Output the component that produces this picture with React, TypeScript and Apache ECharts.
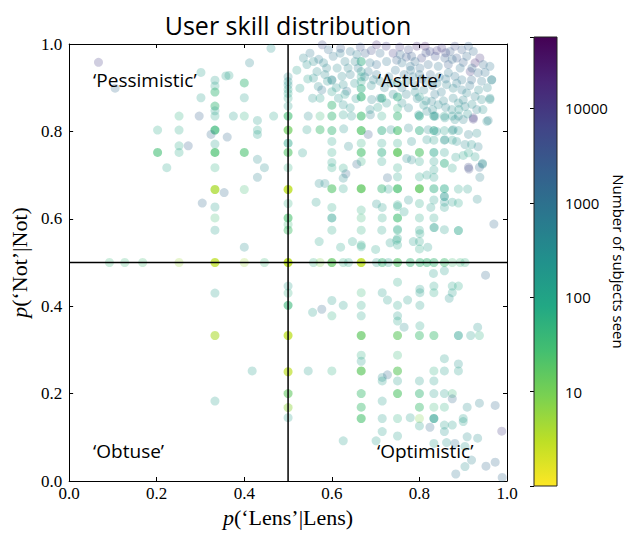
import React, { useEffect, useRef } from 'react';
import * as echarts from 'echarts';

// [p('Lens'|Lens), p('Not'|Not), subjects seen, users stacked at that point]
type Pt = [number, number, number, number?];

const TITLE = 'User skill distribution';
const X_NAME = '{i|p}(‘Lens’|Lens)';
const Y_NAME = '{i|p}(‘Not’|Not)';
const CBAR_NAME = 'Number of subjects seen';
const CBAR_TICKS = [10, 100, 1000, 10000];
const COUNT_MIN = 1;
const COUNT_MAX = 57000;
const SPLIT = 0.5;
const QUADRANTS: { text: string; x: number; y: number }[] = [
  { text: '‘Pessimistic’', x: 0.055, y: 0.918 },
  { text: '‘Astute’', x: 0.705, y: 0.918 },
  { text: '‘Obtuse’', x: 0.055, y: 0.069 },
  { text: '‘Optimistic’', x: 0.703, y: 0.069 },
];

const VIRIDIS = ['#440154', '#482475', '#414487', '#355f8d', '#2a788e', '#21918c', '#22a884', '#44bf70', '#7ad151', '#bddf26', '#fde725'];

const PTS_PESSIMISTIC: Pt[] = [
  [0.067, 0.958, 8000], [0.105, 0.899, 1500], [0.301, 0.935, 150], [0.333, 0.917, 150],
  [0.333, 0.904, 120], [0.333, 0.89, 40, 2], [0.358, 0.927, 150], [0.365, 0.928, 120],
  [0.4, 0.911, 40, 2], [0.412, 0.957, 400], [0.461, 0.99, 200], [0.301, 0.877, 150],
  [0.333, 0.858, 40, 2], [0.333, 0.847, 150], [0.4, 0.877, 150], [0.251, 0.835, 60],
  [0.297, 0.835, 2000], [0.333, 0.835, 100], [0.375, 0.835, 150], [0.4, 0.835, 60],
  [0.43, 0.825, 150], [0.467, 0.835, 100], [0.202, 0.803, 80], [0.251, 0.803, 80],
  [0.333, 0.803, 40, 4], [0.43, 0.803, 100], [0.324, 0.793, 1500], [0.361, 0.787, 1500],
  [0.43, 0.793, 150], [0.251, 0.767, 80], [0.272, 0.767, 2000], [0.333, 0.771, 150],
  [0.202, 0.752, 30, 3], [0.251, 0.752, 80], [0.333, 0.752, 25, 4], [0.4, 0.752, 25, 3],
  [0.223, 0.717, 100], [0.333, 0.717, 60], [0.43, 0.736, 300], [0.446, 0.717, 300],
  [0.43, 0.695, 500], [0.333, 0.667, 4, 5], [0.4, 0.667, 30], [0.354, 0.66, 1500],
  [0.304, 0.636, 1500], [0.333, 0.627, 150], [0.333, 0.602, 30], [0.333, 0.574, 150],
  [0.4, 0.535, 300],
];

const PTS_OBTUSE: Pt[] = [
  [0.333, 0.43, 150], [0.333, 0.333, 4, 3], [0.418, 0.252, 150], [0.333, 0.183, 150],
];

const PTS_ROW_HALF: Pt[] = [
  [0.092, 0.5, 40], [0.127, 0.5, 40], [0.168, 0.5, 30], [0.251, 0.5, 5], [0.333, 0.5, 3, 5],
  [0.4, 0.5, 5], [0.446, 0.5, 40], [0.558, 0.5, 60], [0.573, 0.5, 8], [0.6, 0.5, 15, 4],
  [0.626, 0.5, 60], [0.638, 0.5, 80], [0.667, 0.5, 3, 6], [0.702, 0.5, 150], [0.715, 0.5, 40, 2],
  [0.729, 0.5, 150], [0.75, 0.5, 20, 3], [0.779, 0.5, 40, 2], [0.801, 0.5, 40, 2],
  [0.817, 0.5, 40, 2], [0.833, 0.5, 40, 2], [0.857, 0.5, 30, 2], [0.875, 0.5, 30],
  [0.893, 0.5, 40], [0.904, 0.5, 60],
];

const PTS_COL_HALF: Pt[] = [
  [0.5, 0.925, 300], [0.5, 0.914, 200], [0.5, 0.906, 200], [0.5, 0.896, 150], [0.5, 0.887, 100],
  [0.5, 0.876, 100], [0.5, 0.858, 150], [0.5, 0.835, 30, 3], [0.5, 0.803, 12, 4],
  [0.5, 0.773, 100, 2], [0.5, 0.752, 20, 3], [0.5, 0.717, 60], [0.5, 0.667, 3, 6],
  [0.5, 0.635, 60], [0.5, 0.602, 25, 3], [0.5, 0.587, 40], [0.5, 0.574, 25, 2], [0.5, 0.5, 3, 8],
  [0.5, 0.446, 150], [0.5, 0.43, 60], [0.5, 0.402, 40, 3], [0.5, 0.333, 3, 5], [0.5, 0.25, 3, 4],
  [0.5, 0.2, 15, 3], [0.5, 0.168, 6, 2], [0.5, 0.145, 150],
];

const PTS_ASTUTE_COLUMNS: Pt[] = [
  [0.6, 0.917, 300], [0.6, 0.891, 150], [0.6, 0.86, 40, 2], [0.6, 0.835, 40, 2], [0.6, 0.802, 40, 2],
  [0.6, 0.752, 80], [0.6, 0.717, 80], [0.6, 0.669, 20, 3], [0.6, 0.602, 150, 2], [0.6, 0.574, 80],
  [0.6, 0.729, 100], [0.6, 0.626, 80],
  [0.667, 0.96, 60, 2], [0.667, 0.937, 150], [0.667, 0.925, 150], [0.667, 0.914, 100],
  [0.667, 0.898, 60, 2], [0.667, 0.879, 40, 3], [0.667, 0.835, 30, 3], [0.667, 0.802, 20, 4],
  [0.667, 0.773, 60], [0.667, 0.752, 25, 3], [0.667, 0.731, 60], [0.667, 0.669, 15, 5],
  [0.667, 0.62, 60], [0.667, 0.602, 40], [0.667, 0.574, 60], [0.667, 0.54, 80],
  [0.714, 0.876, 60, 2], [0.714, 0.835, 80], [0.714, 0.802, 60, 2], [0.714, 0.773, 100],
  [0.714, 0.752, 60, 2], [0.714, 0.731, 100], [0.714, 0.669, 40, 2], [0.714, 0.574, 100],
  [0.75, 0.91, 100], [0.75, 0.879, 60, 2], [0.75, 0.853, 60], [0.75, 0.835, 40, 2],
  [0.75, 0.802, 25, 3], [0.75, 0.773, 80], [0.75, 0.752, 15, 5], [0.75, 0.717, 80],
  [0.75, 0.696, 100], [0.75, 0.669, 25, 4], [0.75, 0.628, 80], [0.75, 0.602, 30, 3],
  [0.75, 0.574, 60], [0.75, 0.54, 100],
  [0.8, 0.879, 150], [0.8, 0.835, 80, 2], [0.8, 0.802, 60, 2], [0.8, 0.752, 20, 3],
  [0.8, 0.731, 100], [0.8, 0.696, 100], [0.8, 0.669, 15, 5], [0.8, 0.635, 80], [0.8, 0.602, 80],
  [0.8, 0.574, 100], [0.8, 0.548, 100], [0.8, 0.531, 80],
  [0.833, 0.835, 150, 2], [0.833, 0.802, 100, 2], [0.833, 0.78, 150], [0.833, 0.752, 100, 2],
  [0.833, 0.731, 150], [0.833, 0.712, 150], [0.833, 0.695, 150], [0.833, 0.669, 60, 2],
  [0.833, 0.643, 150], [0.833, 0.602, 100], [0.833, 0.58, 150],
  [0.857, 0.835, 150], [0.857, 0.802, 150], [0.857, 0.78, 150], [0.857, 0.752, 150],
  [0.857, 0.727, 60, 2], [0.857, 0.669, 80, 2], [0.857, 0.651, 200, 2], [0.857, 0.638, 200],
  [0.857, 0.626, 150], [0.857, 0.575, 150],
  [0.875, 0.835, 200], [0.875, 0.802, 150], [0.875, 0.78, 150], [0.875, 0.716, 100], [0.875, 0.638, 150],
  [0.889, 0.835, 300], [0.889, 0.802, 200], [0.889, 0.668, 100], [0.889, 0.636, 100], [0.889, 0.573, 100],
];

const PTS_ASTUTE_SCATTER: Pt[] = [
  [0.533, 0.751, 150], [0.571, 0.681, 300], [0.584, 0.681, 300], [0.564, 0.638, 150], [0.571, 0.548, 100],
  [0.626, 0.716, 80], [0.632, 0.703, 1500], [0.626, 0.693, 300], [0.626, 0.669, 100], [0.667, 0.536, 80],
  [0.657, 0.725, 1500], [0.702, 0.634, 200], [0.715, 0.626, 150], [0.715, 0.602, 80], [0.727, 0.694, 1500],
  [0.729, 0.668, 150], [0.748, 0.551, 100], [0.771, 0.738, 300], [0.782, 0.735, 300], [0.817, 0.7, 150],
  [0.883, 0.741, 150], [0.9, 0.745, 100], [0.912, 0.751, 100], [0.927, 0.742, 150], [0.91, 0.668, 150],
  [0.826, 0.626, 150], [0.775, 0.643, 200], [0.765, 0.616, 150], [0.75, 0.632, 100], [0.801, 0.566, 100],
  [0.786, 0.548, 150], [0.819, 0.535, 150], [0.834, 0.58, 150], [0.75, 0.576, 100], [0.75, 0.555, 100],
  [0.97, 0.588, 1500], [0.944, 0.725, 500], [0.913, 0.714, 5000], [0.932, 0.645, 300], [0.889, 0.573, 100],
  [0.938, 0.695, 500], [0.937, 0.718, 1500], [0.957, 0.825, 500], [0.923, 0.828, 8000], [0.944, 0.727, 300],
  [0.934, 0.765, 500], [0.912, 0.718, 5000], [0.965, 0.918, 300], [0.961, 0.876, 300], [0.546, 0.835, 300],
  [0.543, 0.804, 150], [0.573, 0.804, 30, 2], [0.573, 0.835, 40], [0.626, 0.838, 150], [0.645, 0.835, 200],
  [0.688, 0.838, 500], [0.627, 0.806, 200], [0.683, 0.793, 3000], [0.735, 0.804, 300], [0.638, 0.766, 300],
  [0.6, 0.777, 100], [0.647, 0.548, 100], [0.7, 0.53, 100], [0.733, 0.545, 150], [0.62, 0.535, 100],
];

const PTS_ASTUTE_TOP: Pt[] = [
  [0.578, 0.998, 5000], [0.592, 0.987, 1200], [0.619, 0.979, 600], [0.642, 0.983, 800], [0.657, 0.976, 600],
  [0.676, 0.979, 2000], [0.702, 0.998, 15000], [0.71, 0.979, 1200], [0.724, 0.995, 8000], [0.74, 0.979, 8000],
  [0.535, 0.968, 400], [0.55, 0.979, 700], [0.558, 0.96, 300], [0.581, 0.957, 400], [0.603, 0.972, 700],
  [0.63, 0.96, 500], [0.653, 0.96, 400], [0.687, 0.957, 700], [0.702, 0.953, 1200], [0.725, 0.96, 900],
  [0.748, 0.963, 2000], [0.543, 0.953, 250], [0.566, 0.937, 300], [0.584, 0.93, 350], [0.558, 0.922, 250],
  [0.6, 0.918, 400], [0.623, 0.926, 350], [0.642, 0.93, 500], [0.683, 0.937, 700], [0.702, 0.93, 900],
  [0.695, 0.918, 500], [0.569, 0.903, 300], [0.577, 0.895, 900], [0.626, 0.907, 300], [0.634, 0.892, 900],
  [0.691, 0.873, 400], [0.527, 0.899, 150], [0.556, 0.876, 200], [0.573, 0.876, 150], [0.615, 0.876, 200],
  [0.626, 0.861, 250], [0.642, 0.854, 200], [0.687, 0.85, 300], [0.71, 0.876, 400],
  [0.775, 0.987, 5000], [0.794, 0.995, 15000], [0.813, 0.995, 25000], [0.824, 0.983, 6000], [0.851, 0.991, 10000],
  [0.87, 0.983, 2500], [0.881, 0.995, 5000], [0.897, 0.987, 2500], [0.912, 0.995, 2000], [0.923, 0.983, 1500],
  [0.938, 0.968, 12000], [0.756, 0.976, 1500], [0.782, 0.972, 2500], [0.805, 0.968, 6000], [0.836, 0.972, 4000],
  [0.858, 0.968, 2000], [0.885, 0.968, 3000], [0.908, 0.972, 1500], [0.927, 0.957, 15000], [0.946, 0.953, 1500],
  [0.961, 0.949, 800], [0.76, 0.957, 900], [0.779, 0.949, 900], [0.801, 0.945, 1200], [0.82, 0.953, 1500],
  [0.843, 0.949, 900], [0.866, 0.953, 2500], [0.893, 0.945, 900], [0.916, 0.937, 10000], [0.934, 0.934, 1500],
  [0.965, 0.918, 600], [0.866, 0.934, 700], [0.881, 0.926, 900], [0.897, 0.918, 700], [0.919, 0.918, 1500],
  [0.942, 0.915, 700], [0.862, 0.907, 500], [0.877, 0.899, 400], [0.897, 0.895, 600], [0.908, 0.888, 400],
  [0.927, 0.88, 500], [0.942, 0.873, 300], [0.961, 0.873, 250], [0.877, 0.876, 400], [0.889, 0.865, 300],
  [0.904, 0.857, 400], [0.931, 0.85, 500], [0.874, 0.85, 300], [0.843, 0.861, 350], [0.828, 0.869, 500],
  [0.775, 0.854, 400], [0.798, 0.838, 250], [0.817, 0.846, 350], [0.836, 0.835, 300], [0.858, 0.831, 250],
  [0.881, 0.827, 300], [0.9, 0.827, 500], [0.923, 0.831, 8000], [0.954, 0.823, 300], [0.775, 0.808, 350],
  [0.82, 0.804, 300], [0.839, 0.8, 250], [0.877, 0.804, 350], [0.912, 0.793, 500], [0.931, 0.796, 300],
  [0.782, 0.777, 250], [0.817, 0.781, 200], [0.858, 0.781, 300], [0.885, 0.777, 250], [0.904, 0.77, 350],
  [0.919, 0.77, 200], [0.765, 0.93, 900], [0.785, 0.925, 700], [0.805, 0.92, 1000], [0.825, 0.93, 1500],
  [0.845, 0.925, 900], [0.79, 0.905, 700], [0.81, 0.895, 500], [0.83, 0.905, 1000], [0.85, 0.89, 600],
  [0.77, 0.885, 500], [0.795, 0.875, 400], [0.815, 0.87, 300], [0.835, 0.885, 700], [0.855, 0.87, 450],
  [0.76, 0.9, 600], [0.745, 0.94, 900], [0.73, 0.925, 700], [0.72, 0.9, 500], [0.74, 0.885, 350],
  [0.76, 0.865, 300],
  [0.612, 0.945, 350], [0.637, 0.945, 450], [0.66, 0.945, 600], [0.675, 0.925, 400], [0.69, 0.905, 300],
  [0.71, 0.915, 450], [0.735, 0.91, 400], [0.652, 0.91, 250], [0.61, 0.9, 200], [0.59, 0.915, 250],
  [0.588, 0.945, 450], [0.57, 0.965, 600], [0.62, 0.99, 2500], [0.665, 0.993, 4000], [0.69, 0.985, 5000],
  [0.755, 0.993, 8000], [0.77, 0.97, 3000], [0.79, 0.96, 1500], [0.815, 0.98, 4000], [0.84, 0.985, 8000],
  [0.86, 0.98, 6000], [0.875, 0.965, 1500], [0.9, 0.958, 2000], [0.92, 0.945, 1500], [0.95, 0.935, 1000],
  [0.955, 0.9, 400], [0.935, 0.895, 350], [0.915, 0.905, 700], [0.885, 0.91, 600], [0.86, 0.92, 700],
  [0.84, 0.91, 500], [0.82, 0.915, 600], [0.8, 0.93, 800], [0.78, 0.94, 900], [0.77, 0.915, 450],
  [0.79, 0.89, 350], [0.81, 0.86, 250], [0.83, 0.85, 350], [0.86, 0.855, 400], [0.9, 0.872, 450],
  [0.92, 0.862, 300], [0.945, 0.85, 250], [0.91, 0.84, 250], [0.89, 0.85, 200], [0.725, 0.865, 200],
  [0.705, 0.855, 150], [0.655, 0.875, 200], [0.63, 0.885, 150], [0.545, 0.92, 150], [0.52, 0.94, 150],
];

const PTS_OPTIMISTIC: Pt[] = [
  [0.832, 0.475, 150], [0.857, 0.481, 150], [0.951, 0.471, 1500],
  [0.667, 0.431, 40], [0.715, 0.431, 150], [0.75, 0.455, 80], [0.801, 0.439, 150], [0.801, 0.431, 150],
  [0.833, 0.446, 100], [0.833, 0.431, 80], [0.875, 0.446, 100], [0.889, 0.446, 80], [0.875, 0.431, 150],
  [0.868, 0.418, 200], [0.556, 0.386, 150], [0.577, 0.393, 1500], [0.6, 0.413, 150], [0.6, 0.378, 60],
  [0.626, 0.402, 150], [0.667, 0.402, 80], [0.667, 0.378, 100], [0.727, 0.414, 150], [0.75, 0.402, 100],
  [0.75, 0.378, 150], [0.75, 0.366, 100], [0.773, 0.414, 150], [0.801, 0.402, 150], [0.765, 0.352, 300],
  [0.801, 0.355, 100], [0.667, 0.333, 15, 4], [0.75, 0.333, 15, 3], [0.8, 0.333, 30, 2], [0.833, 0.333, 30, 2],
  [0.889, 0.333, 150, 2], [0.917, 0.333, 150], [0.937, 0.333, 60], [0.933, 0.352, 200],
  [0.667, 0.288, 60], [0.667, 0.274, 150], [0.75, 0.288, 40], [0.857, 0.28, 150], [0.889, 0.268, 200],
  [0.546, 0.252, 150], [0.6, 0.252, 60], [0.667, 0.252, 15, 4], [0.75, 0.252, 15, 3], [0.833, 0.252, 60],
  [0.857, 0.252, 150], [0.889, 0.252, 150], [0.715, 0.237, 300], [0.727, 0.243, 1500], [0.715, 0.229, 150],
  [0.75, 0.229, 150], [0.8, 0.229, 150], [0.833, 0.229, 150], [0.667, 0.2, 30, 2], [0.75, 0.2, 20, 3],
  [0.8, 0.2, 40, 2], [0.833, 0.2, 150], [0.857, 0.2, 150], [0.875, 0.2, 40], [0.875, 0.188, 1500],
  [0.937, 0.178, 500], [0.973, 0.173, 1500], [0.909, 0.169, 300], [0.715, 0.183, 150], [0.667, 0.169, 30, 2],
  [0.8, 0.169, 30, 2], [0.833, 0.169, 40], [0.857, 0.169, 60], [0.667, 0.143, 25, 3], [0.715, 0.143, 150],
  [0.75, 0.143, 60], [0.779, 0.145, 150], [0.8, 0.143, 8], [0.833, 0.143, 150, 3], [0.857, 0.128, 150],
  [0.9, 0.143, 150], [0.9, 0.136, 150], [0.875, 0.128, 150], [0.8, 0.126, 150], [0.824, 0.123, 1500],
  [0.857, 0.113, 200], [0.626, 0.092, 150], [0.715, 0.113, 150], [0.701, 0.092, 150], [0.75, 0.103, 150],
  [0.833, 0.086, 150], [0.862, 0.088, 200], [0.881, 0.086, 1000], [0.909, 0.101, 300], [0.933, 0.098, 300],
  [0.904, 0.079, 200], [0.919, 0.048, 500], [0.952, 0.034, 1500], [0.973, 0.043, 1500], [0.904, 0.033, 300],
  [0.883, 0.016, 800], [0.988, 0.114, 8000], [0.989, 0.008, 1500],
];

const ALPHA = 0.25;
const SERIF = 'Liberation Serif';
const SANS = 'Open Sans';

export default function App() {
  const ref = useRef<HTMLDivElement>(null);
  useEffect(() => {
    if (!ref.current) return;
    const chart = echarts.init(ref.current, undefined, { renderer: 'svg' });
    const all: Pt[] = [
      ...PTS_PESSIMISTIC, ...PTS_OBTUSE, ...PTS_ROW_HALF, ...PTS_COL_HALF,
      ...PTS_ASTUTE_COLUMNS, ...PTS_ASTUTE_SCATTER, ...PTS_ASTUTE_TOP, ...PTS_OPTIMISTIC,
    ];
    const data = all.map((p) => ({
      value: [p[0], p[1], Math.log10(p[2])],
      itemStyle: { opacity: 1 - Math.pow(1 - ALPHA, p[3] || 1) },
    }));
    const logMax = Math.log10(COUNT_MAX);
    const logMin = Math.log10(COUNT_MIN);
    const lowToHigh = [...VIRIDIS].reverse();
    const gl = 69, gt = 44, gw = 438, gh = 437;
    const frameAxis = (pos: string) => ({
      type: 'value', min: 0, max: 1, interval: 0.2, position: pos,
      axisLine: { show: true, onZero: false, lineStyle: { color: '#000', width: 1 } },
      axisTick: { show: true, inside: true, length: 4, lineStyle: { color: '#000', width: 1 } },
      splitLine: { show: false },
      axisLabel: { show: false },
    });
    const tickLabel = {
      show: true, formatter: (v: number) => v.toFixed(1), fontFamily: SERIF, fontSize: 17, color: '#000',
    };
    const nameStyle = {
      fontFamily: SERIF, fontSize: 22, color: '#000',
      rich: { i: { fontFamily: SERIF, fontSize: 22, fontStyle: 'italic', color: '#000' } },
    };
    const option: any = {
      animation: false,
      grid: [
        { left: gl, top: gt, width: gw, height: gh },
        { left: 534, top: 37, width: 23, height: 449 },
      ],
      xAxis: [
        { ...frameAxis('bottom'), axisLabel: { ...tickLabel, margin: 4 }, name: X_NAME, nameLocation: 'middle', nameGap: 22, nameTextStyle: nameStyle },
        { ...frameAxis('top') },
        { gridIndex: 1, type: 'value', min: 0, max: 1, show: false },
      ],
      yAxis: [
        { ...frameAxis('left'), axisLabel: { ...tickLabel, margin: 7 }, name: Y_NAME, nameLocation: 'middle', nameGap: 38, nameRotate: 90, nameTextStyle: nameStyle },
        { ...frameAxis('right') },
        {
          gridIndex: 1, type: 'value', min: logMin, max: logMax, interval: 1, position: 'right',
          axisLine: { show: false },
          axisTick: { show: true, inside: true, length: 4, lineStyle: { color: '#000' } },
          splitLine: { show: false },
          axisLabel: {
            formatter: (v: number) => { const n = Math.round(Math.pow(10, v)); return CBAR_TICKS.includes(n) ? String(n) : ''; },
            fontFamily: SANS, fontSize: 15, color: '#000', margin: 8,
          },
          name: CBAR_NAME, nameLocation: 'middle', nameRotate: -90, nameGap: 53,
          nameTextStyle: { fontFamily: SANS, fontSize: 15, color: '#000' },
        },
      ],
      visualMap: {
        show: false, type: 'continuous', dimension: 2, seriesIndex: 0,
        min: logMin, max: logMax, inRange: { color: lowToHigh },
      },
      series: [
        {
          type: 'scatter', xAxisIndex: 0, yAxisIndex: 0, symbolSize: 9, data,
          itemStyle: { opacity: ALPHA }, silent: true,
        },
        {
          type: 'line', xAxisIndex: 0, yAxisIndex: 0, data: [[SPLIT, 0], [SPLIT, 1]], symbol: 'none',
          lineStyle: { color: '#000', width: 1.5 }, silent: true, z: 5,
        },
        {
          type: 'line', xAxisIndex: 0, yAxisIndex: 0, data: [[0, SPLIT], [1, SPLIT]], symbol: 'none',
          lineStyle: { color: '#000', width: 1.5 }, silent: true, z: 5,
        },
      ],
      graphic: [
        {
          type: 'text', x: gl + gw / 2, y: 25, z: 10,
          style: { text: TITLE, font: `25px "${SANS}"`, fill: '#000', textAlign: 'center', textVerticalAlign: 'middle' },
        },
        {
          type: 'rect', shape: { x: 534, y: 37, width: 23, height: 449 }, z: 1,
          style: {
            fill: new echarts.graphic.LinearGradient(0, 1, 0, 0, lowToHigh.map((c, i) => ({ offset: i / (lowToHigh.length - 1), color: c }))),
            stroke: '#222', lineWidth: 1,
          },
        },
        ...QUADRANTS.map((q) => ({
          type: 'text', x: gl + q.x * gw, y: gt + (1 - q.y) * gh, z: 10,
          style: { text: q.text, font: `19px "${SANS}"`, fill: '#000', textAlign: 'left', textVerticalAlign: 'middle' },
        })),
      ],
    };
    chart.setOption(option);
    return () => chart.dispose();
  }, []);
  return <div ref={ref} style={{ position: 'absolute', left: 0, top: 0, width: 630, height: 534 }} />;
}
